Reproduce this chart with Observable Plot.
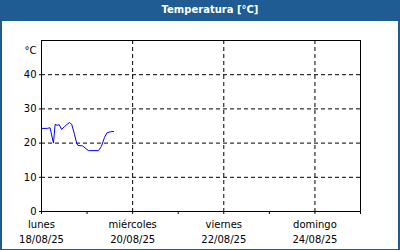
<!DOCTYPE html>
<html><head><meta charset="utf-8">
<script src="https://cdn.jsdelivr.net/npm/d3@7"></script>
<script src="https://cdn.jsdelivr.net/npm/@observablehq/plot@0.6"></script>
<style>
html,body{margin:0;padding:0;}
body{width:400px;height:250px;background:#1f5c94;position:relative;overflow:hidden;font-family:"DejaVu Sans",sans-serif;}
#title{position:absolute;left:0;top:0;width:380px;padding-left:20px;height:20px;line-height:20px;text-align:center;color:#fff;font-weight:bold;font-size:10px;}
#chart{position:absolute;left:2px;top:21px;width:396px;height:228px;background:#fff;}
</style></head><body>
<div id="title">Temperatura [°C]</div>
<div id="chart"></div>
<script>
const times = ["2025-08-18T00:00Z","2025-08-18T03:00Z","2025-08-18T04:30Z","2025-08-18T06:18Z","2025-08-18T07:12Z","2025-08-18T08:12Z","2025-08-18T09:18Z","2025-08-18T10:36Z","2025-08-18T12:06Z","2025-08-18T13:18Z","2025-08-18T14:42Z","2025-08-18T15:54Z","2025-08-18T17:24Z","2025-08-18T18:30Z","2025-08-18T19:12Z","2025-08-18T21:36Z","2025-08-19T00:42Z","2025-08-19T06:00Z","2025-08-19T07:30Z","2025-08-19T09:12Z","2025-08-19T10:30Z","2025-08-19T12:12Z","2025-08-19T14:00Z"];
const temps = [24.3,24.3,24.5,20.0,25.5,25.2,25.4,24.0,24.8,25.4,26.0,25.5,22.5,20.0,19.3,19.2,17.8,17.8,19.0,21.7,23.0,23.3,23.4];
const dayTicks = ["2025-08-18","2025-08-19","2025-08-20","2025-08-21","2025-08-22","2025-08-23","2025-08-24","2025-08-25"];
const labelDates = ["2025-08-18","2025-08-20","2025-08-22","2025-08-24"];
const weekdays = ["lunes","miércoles","viernes","domingo"];
const dateLabels = ["18/08/25","20/08/25","22/08/25","24/08/25"];
const gridDates = ["2025-08-20","2025-08-22","2025-08-24"];
const yTicks = [0,10,20,30,40];
const yGrid = [10,20,30,40];
const yUnit = "°C";

const data = times.map((t,i)=>({time:new Date(t), temp:temps[i]}));
const toDate = s => new Date(s + "T00:00Z");
const labelFor = d => {
  const i = labelDates.findIndex(s => +toDate(s) === +d);
  return i < 0 ? "" : weekdays[i] + "\n" + dateLabels[i];
};

const chart = Plot.plot({
  width: 396,
  height: 228,
  marginLeft: 39,
  marginRight: 38,
  marginTop: 19,
  marginBottom: 38,
  style: {fontFamily: "DejaVu Sans, sans-serif", fontSize: "10px", color: "#000", background: "#fff"},
  x: {type: "utc", domain: [toDate(dayTicks[0]), toDate(dayTicks[dayTicks.length-1])], label: null},
  y: {domain: [0, 50], label: null},
  marks: [
    Plot.gridY(yGrid, {stroke: "#000", strokeOpacity: 1, strokeDasharray: "4,3"}),
    Plot.gridX(gridDates.map(toDate), {stroke: "#000", strokeOpacity: 1, strokeDasharray: "4,3"}),
    Plot.frame({stroke: "#000"}),
    Plot.axisY(yTicks, {tickSize: 2, tickPadding: 3, fill: "#000", stroke: "#000", label: null}),
    Plot.text([yUnit], {frameAnchor: "top-left", text: d => d, dx: -5, dy: 6, textAnchor: "end", fill: "#000"}),
    Plot.axisX(dayTicks.map(toDate), {tickSize: 3, tickPadding: 3, tickFormat: labelFor, lineHeight: 1.5, fill: "#000", stroke: "#000", label: null}),
    Plot.line(data, {x: "time", y: "temp", stroke: "#0000ff", strokeWidth: 1})
  ]
});
document.getElementById("chart").appendChild(chart);
</script>
</body></html>
